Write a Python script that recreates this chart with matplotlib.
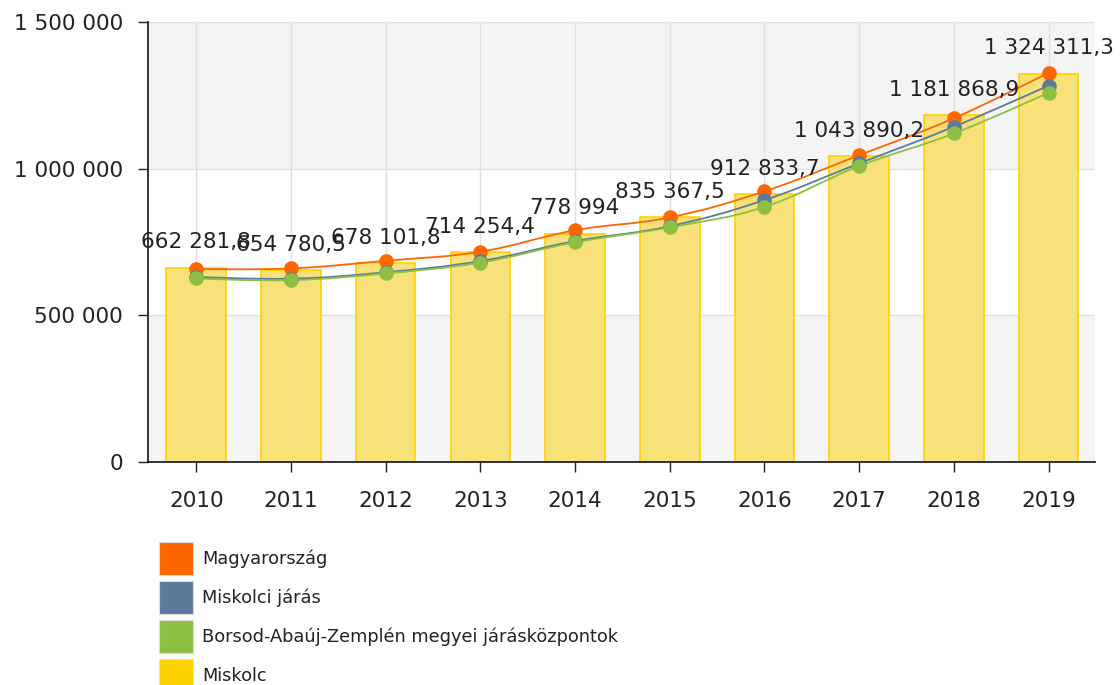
import numpy as np
from matplotlib import pyplot as plt
from matplotlib.path import Path
from matplotlib.patches import PathPatch, Rectangle

# Data
years = ['2010', '2011', '2012', '2013', '2014', '2015', '2016', '2017', '2018', '2019']
miskolc = [662281.8, 654780.5, 678101.8, 714254.4, 778994, 835367.5, 912833.7, 1043890.2, 1181868.9, 1324311.3]
miskolc_labels = ['662 281,8', '654 780,5', '678 101,8', '714 254,4', '778 994', '835 367,5',
                  '912 833,7', '1 043 890,2', '1 181 868,9', '1 324 311,3']
magyarorszag = [658000, 660000, 686000, 717000, 790000, 834000, 923000, 1046000, 1172000, 1327000]
miskolci_jaras = [631000, 625000, 647000, 685000, 753000, 804000, 893000, 1018000, 1143000, 1283000]
borsod = [626000, 620000, 643000, 680000, 749000, 800000, 870000, 1009000, 1120000, 1259000]

yticks = [0, 500000, 1000000, 1500000]
yticklabels = ['0', '500 000', '1 000 000', '1 500 000']

legend_names = ['Magyarország', 'Miskolci járás', 'Borsod-Abaúj-Zemplén megyei járásközpontok', 'Miskolc']
legend_colors = ['#ff6600', '#5c7a9c', '#8dbf43', '#ffd200']


def spline_path(x, y, smoothing=1.5):
    # cubic bezier through the points, like a chart-library spline
    denom = smoothing + 1
    n = len(x)
    left = []
    right = []
    for i in range(n):
        if i == 0 or i == n - 1:
            left.append((x[i], y[i]))
            right.append((x[i], y[i]))
            continue
        lx = (smoothing * x[i] + x[i - 1]) / denom
        ly = (smoothing * y[i] + y[i - 1]) / denom
        rx = (smoothing * x[i] + x[i + 1]) / denom
        ry = (smoothing * y[i] + y[i + 1]) / denom
        corr = (ry - ly) * (rx - x[i]) / (rx - lx) + y[i] - ry
        ly += corr
        ry += corr
        left.append((lx, ly))
        right.append((rx, ry))
    verts = [(x[0], y[0])]
    codes = [Path.MOVETO]
    for i in range(1, n):
        verts += [right[i - 1], left[i], (x[i], y[i])]
        codes += [Path.CURVE4] * 3
    return Path(verts, codes)


plt.rc('font', family='DejaVu Sans')
fig = plt.figure(figsize=(11.2, 6.85), dpi=100)
ax = fig.add_axes([0.1321, 0.3255, 0.8456, 0.6424])

x = np.arange(len(years))

# Background bands
ax.axhspan(0, 500000, color='#f4f4f4', zorder=0, lw=0)
ax.axhspan(1000000, 1500000, color='#f4f4f4', zorder=0, lw=0)
for yy in yticks[1:]:
    ax.axhline(yy, color='#e2e2e2', lw=1, zorder=0.5)
for xx in x:
    ax.axvline(xx, color='#e0e0e0', lw=1, zorder=0.5)

# Bars
ax.bar(x, miskolc, 0.63, color='#f9e17a', edgecolor='#ffd200', linewidth=1.2, zorder=1)

# Lines
for vals, col in [(magyarorszag, legend_colors[0]), (miskolci_jaras, legend_colors[1]), (borsod, legend_colors[2])]:
    ax.add_patch(PathPatch(spline_path(x, vals), facecolor='none', edgecolor=col, lw=1.3, zorder=2))
for vals, col in [(magyarorszag, legend_colors[0]), (miskolci_jaras, legend_colors[1]), (borsod, legend_colors[2])]:
    ax.plot(x, vals, 'o', color=col, markersize=10.5, markeredgewidth=0, zorder=3)

# Value labels
for xi, v, lab in zip(x, miskolc, miskolc_labels):
    ax.annotate(lab, (xi, v), xytext=(0, 11), textcoords='offset points',
                ha='center', va='bottom', fontsize=15.5, color='#222222', zorder=4)

ax.set_xlim(-0.51, 9.49)
ax.set_ylim(0, 1500000)
ax.set_xticks(x)
ax.set_xticklabels(years)
ax.set_yticks(yticks)
ax.set_yticklabels(yticklabels)
ax.tick_params(labelsize=15.5, length=7, width=1, direction='out', colors='#222222')
ax.tick_params(axis='x', pad=14)
ax.tick_params(axis='y', pad=11)
for s in ['top', 'right']:
    ax.spines[s].set_visible(False)
for s in ['left', 'bottom']:
    ax.spines[s].set_color('#111111')
    ax.spines[s].set_linewidth(1.2)

# Legend
for i, (name, col) in enumerate(zip(legend_names, legend_colors)):
    ytop = 542 + i * 39
    fig.patches.append(Rectangle((159 / 1120, 1 - (ytop + 33) / 685), 34 / 1120, 33 / 685,
                                 transform=fig.transFigure, facecolor=col, edgecolor='#dddddd', lw=0.8))
    fig.text(202 / 1120, 1 - (ytop + 17) / 685, name, fontsize=12.8, va='center', ha='left', color='#222222')

plt.savefig('out.png', dpi=100)
